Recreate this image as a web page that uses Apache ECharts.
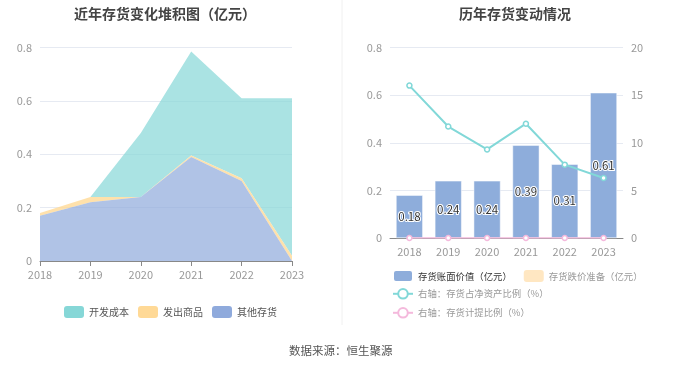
<!DOCTYPE html>
<html><head><meta charset="utf-8">
<script src="https://cdn.jsdelivr.net/npm/echarts@6/dist/echarts.min.js"></script>
<style>html,body{margin:0;padding:0;background:#fff}#c{width:680px;height:367px}</style>
</head><body><div id="c"></div>
<script>
const years = ['2018','2019','2020','2021','2022','2023'];
const devCost = [0, 0, 0.24, 0.39, 0.30, 0.59];
const shipped = [0.01, 0.02, 0.0, 0.005, 0.01, 0.02];
const otherInv = [0.17, 0.22, 0.24, 0.39, 0.30, 0.0];
const bookValue = [0.18, 0.24, 0.24, 0.39, 0.31, 0.61];
const impairment = [0, 0, 0, 0, 0, 0];
const ratioNetAsset = [16.0, 11.7, 9.3, 12.0, 7.7, 6.3];
const provisionRatio = [0, 0, 0, 0, 0, 0];
const leftTicks = [0, 0.2, 0.4, 0.6, 0.8];
const rightTicks = [0, 5, 10, 15, 20];

const font = 'Noto Sans CJK SC';
const chart = echarts.init(document.getElementById('c'), null, {renderer:'canvas'});
const axisLabel = {color:'#999', fontSize:11, fontFamily:font};
chart.setOption({
  textStyle:{fontFamily:font},
  animation:false,
  title:[
    {text:'近年存货变化堆积图（亿元）', left:160, top:2, textAlign:'center', textStyle:{fontSize:14, fontWeight:'bold', color:'#444', fontFamily:font}},
    {text:'历年存货变动情况', left:510, top:2, textAlign:'center', textStyle:{fontSize:14, fontWeight:'bold', color:'#444', fontFamily:font}},
    {text:'数据来源：恒生聚源', left:284, top:340, textStyle:{fontSize:11.5, fontWeight:'normal', color:'#555', fontFamily:font}}
  ],
  graphic:[{type:'line', shape:{x1:342,y1:0,x2:342,y2:325}, style:{stroke:'#f0f0f0', lineWidth:1}}],
  legend:[
    {data:['开发成本','发出商品','其他存货'], left:64, top:306, padding:0, itemWidth:20, itemHeight:12, itemGap:9, icon:'roundRect',
     textStyle:{fontSize:10, color:'#555', fontFamily:font}},
    {data:[{name:'存货账面价值（亿元）', textStyle:{color:'#333'}},{name:'存货跌价准备（亿元）', textStyle:{color:'#999'}}],
     left:392, top:269, padding:0, itemWidth:20, itemHeight:12, itemGap:12, icon:'roundRect', textStyle:{fontSize:9.4, fontFamily:font}},
    {data:[{name:'右轴：存货占净资产比例（%）'}], left:392, top:288, padding:0, itemWidth:20, itemHeight:12, textStyle:{fontSize:9.4, color:'#999', fontFamily:font}},
    {data:[{name:'右轴：存货计提比例（%）'}], left:392, top:307, padding:0, itemWidth:20, itemHeight:12, textStyle:{fontSize:9.4, color:'#999', fontFamily:font}}
  ],
  grid:[
    {left:40, top:47.5, width:252, height:213.5},
    {left:390, top:47.5, width:233, height:190.5}
  ],
  xAxis:[
    {type:'category', gridIndex:0, data:years, boundaryGap:false,
     axisLine:{lineStyle:{color:'#888'}}, axisTick:{show:true, lineStyle:{color:'#888'}}, axisLabel:axisLabel},
    {type:'category', gridIndex:1, data:years, boundaryGap:true,
     axisLine:{lineStyle:{color:'#888'}}, axisTick:{show:false}, axisLabel:axisLabel}
  ],
  yAxis:[
    {type:'value', gridIndex:0, min:0, max:0.8, interval:0.2, axisLabel:Object.assign({}, axisLabel, {formatter:v=>leftTicks.includes(+v.toFixed(1))?String(+v.toFixed(1)):''}),
     splitLine:{lineStyle:{color:'#e6eaf2'}}, axisLine:{show:false}, axisTick:{show:false}},
    {type:'value', gridIndex:1, min:0, max:0.8, interval:0.2, axisLabel:Object.assign({}, axisLabel, {formatter:v=>String(+v.toFixed(1))}),
     splitLine:{lineStyle:{color:'#e6eaf2'}}, axisLine:{show:false}, axisTick:{show:false}},
    {type:'value', gridIndex:1, min:0, max:20, interval:5, position:'right', axisLabel:Object.assign({}, axisLabel, {formatter:v=>rightTicks.includes(v)?String(v):''}),
     splitLine:{show:false}, axisLine:{show:false}, axisTick:{show:false}}
  ],
  series:[
    {name:'其他存货', type:'line', xAxisIndex:0, yAxisIndex:0, stack:'a', data:otherInv, symbol:'none', lineStyle:{width:0},
     itemStyle:{color:'#8faadc'}, areaStyle:{color:'#8faadc', opacity:0.7}, z:3},
    {name:'发出商品', type:'line', xAxisIndex:0, yAxisIndex:0, stack:'a', data:shipped, symbol:'none', lineStyle:{width:0},
     itemStyle:{color:'#ffd996'}, areaStyle:{color:'#ffd996', opacity:0.8}, z:2},
    {name:'开发成本', type:'line', xAxisIndex:0, yAxisIndex:0, stack:'a', data:devCost, symbol:'none', lineStyle:{width:0},
     itemStyle:{color:'#86d7d7'}, areaStyle:{color:'#86d7d7', opacity:0.7}, z:1},
    {name:'存货账面价值（亿元）', type:'bar', xAxisIndex:1, yAxisIndex:1, stack:'b', data:bookValue, barWidth:'69%',
     itemStyle:{color:'#8eaddb', borderColor:'#fff', borderWidth:0.5},
     label:{show:true, position:'inside', color:'#333', fontSize:11.5, textBorderColor:'#fff', textBorderWidth:2, fontFamily:font}, z:2},
    {name:'存货跌价准备（亿元）', type:'bar', xAxisIndex:1, yAxisIndex:1, stack:'b', data:impairment,
     itemStyle:{color:'#ffe7c2'}},
    {name:'右轴：存货占净资产比例（%）', type:'line', xAxisIndex:1, yAxisIndex:2, data:ratioNetAsset, symbol:'circle', symbolSize:5,
     lineStyle:{color:'#82d8d8', width:2}, itemStyle:{color:'#fff', borderColor:'#82d8d8', borderWidth:1.5}, z:3},
    {name:'右轴：存货计提比例（%）', type:'line', xAxisIndex:1, yAxisIndex:2, data:provisionRatio, symbol:'circle', symbolSize:5,
     lineStyle:{color:'#f4b9dc', width:1.5}, itemStyle:{color:'#fff', borderColor:'#f4b9dc', borderWidth:1.5}, z:3}
  ]
});
</script></body></html>
